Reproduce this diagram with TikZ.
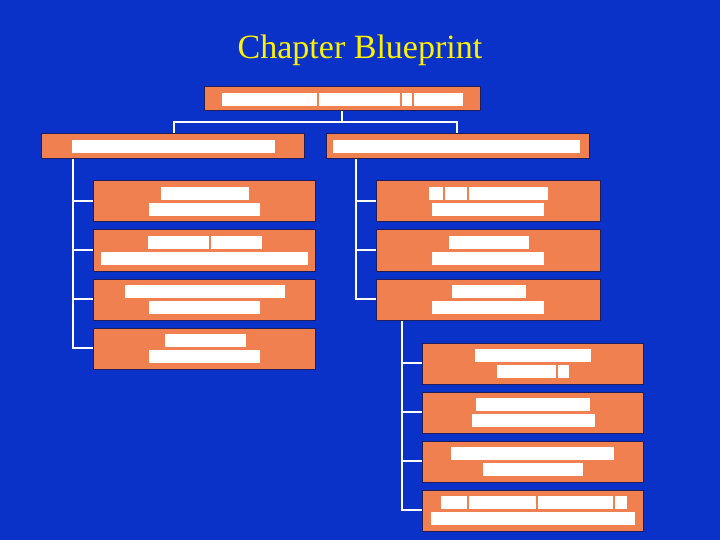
\documentclass[tikz,border=0pt]{standalone}
\usepackage{fontspec}
\setmainfont{Liberation Serif}
\definecolor{bg}{RGB}{10,50,200}
\definecolor{org}{RGB}{240,128,80}
\definecolor{edge}{RGB}{30,30,90}
\tikzset{
 box/.style={fill=org,draw=edge,line width=1pt},
 bar/.style={fill=white,draw=org,line width=0.5pt},
 conn/.style={draw=white,line width=2pt}
}
\begin{document}
\begin{tikzpicture}[x=1pt,y=-1pt]
\fill[bg] (0,0) rectangle (720,540);
\useasboundingbox (0,0) rectangle (720,540);
\node[text=yellow,font=\fontsize{34}{40}\selectfont] (title) at (360,50) {Chapter Blueprint};
% connectors
\draw[conn] (342,111) -- (342,122) coordinate (c0);
\draw[conn] (174,134) -- (174,122) -- (457,122) -- (457,134);
\draw[conn] (73,159) -- (73,348) -- (93,348);
\foreach \y in {201,250,299} \draw[conn] (73,\y) -- (93,\y);
\draw[conn] (356,159) -- (356,299) -- (376,299);
\foreach \y in {201,250} \draw[conn] (356,\y) -- (376,\y);
\draw[conn] (402,320) -- (402,510) -- (422,510);
\foreach \y in {363,412,461} \draw[conn] (402,\y) -- (422,\y);
% boxes
\draw[box] (204,87) rectangle (480,111);
\draw[box] (41,134) rectangle (304,159);
\draw[box] (326,134) rectangle (589,159);
\foreach \y in {181,230,279,328} {\draw[box] (93,\y) rectangle (315,\y+41);}
\foreach \y in {181,230,279} {\draw[box] (376,\y) rectangle (600,\y+41);}
\foreach \y in {343,392,441,490} {\draw[box] (422,\y) rectangle (643,\y+41);}
% text bars
\foreach \a/\b/\c in {221/317/92,318/400/92,401/412/92,413/463/92,
 71/275/139,332/580/139,
 160/249/186,148/260/202,147/209/235,210/262/235,100/308/251,
 124/285/284,148/260/300,164/246/333,148/260/349,
 428/443/186,444/467/186,468/548/186,431/544/202,
 448/529/235,431/544/251,451/526/284,431/544/300,
 474/591/348,496/556/364,557/569/364,475/590/397,471/595/413,
 450/614/446,482/583/462,440/467/495,468/536/495,537/613/495,614/627/495,430/635/511}
 {\draw[bar] (\a,\c) rectangle (\b,\c+14);}
\end{tikzpicture}
\end{document}
